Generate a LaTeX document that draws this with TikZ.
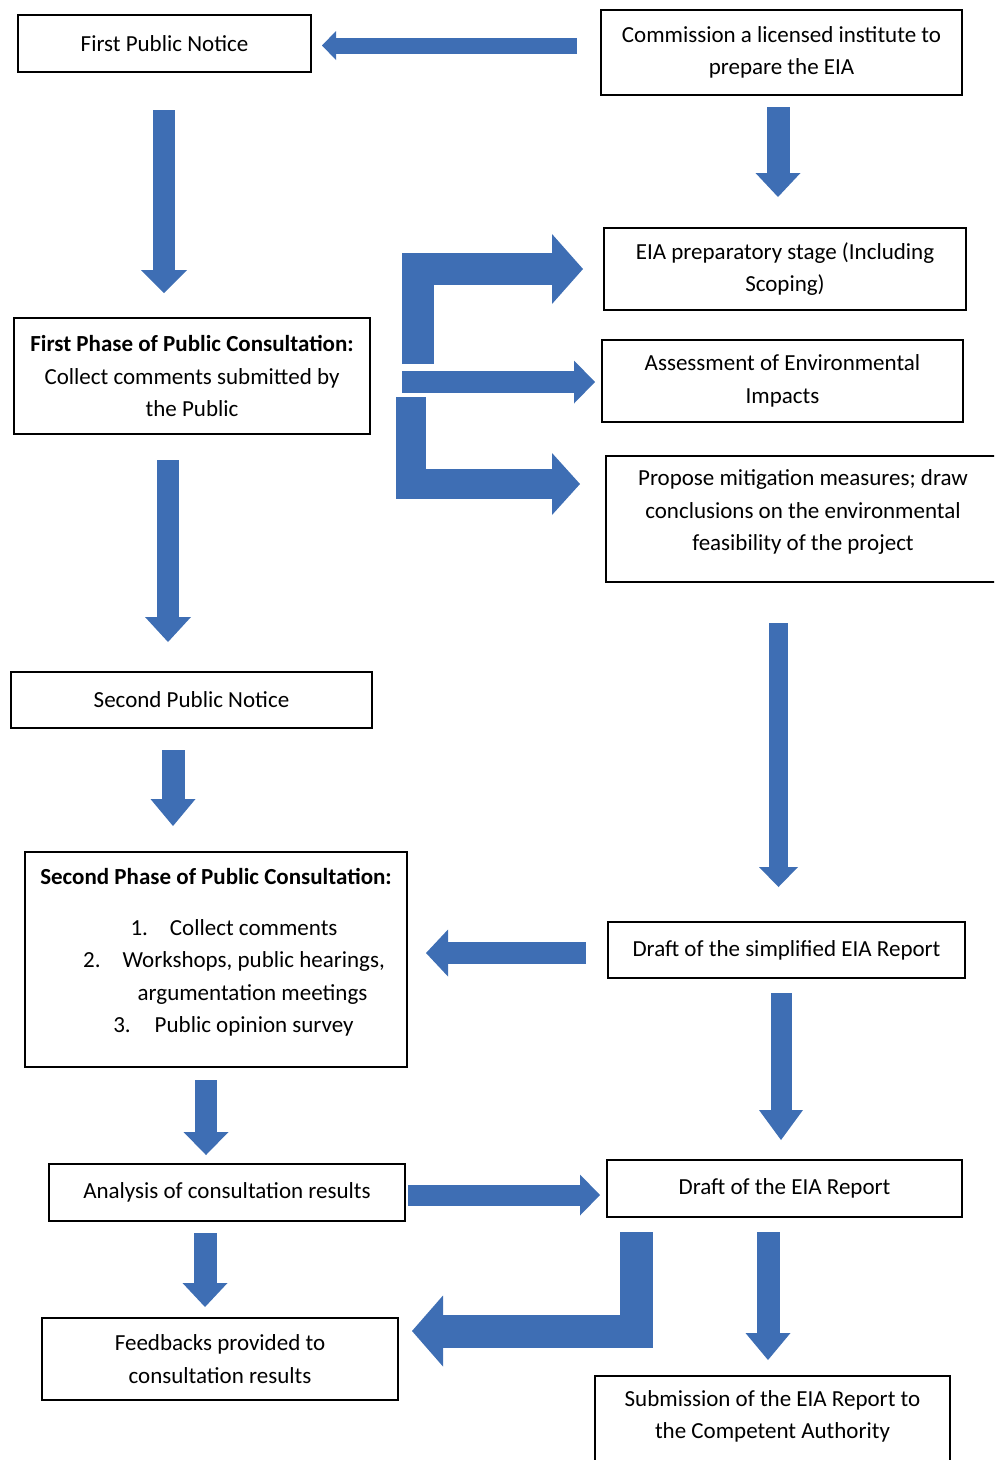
\documentclass[tikz,border=0pt]{standalone}
\usepackage{fontspec}
\setmainfont{Carlito}
\usetikzlibrary{arrows.meta,calc}
\definecolor{flowblue}{RGB}{62,110,180}

\begin{document}
\begin{tikzpicture}[x=1pt,y=-1pt,
	every node/.style={font=\fontsize{23}{32.5}\selectfont},
	box/.style 2 args={draw, line width=1.5pt, align=center, inner sep=0pt, outer sep=0pt,
		minimum width=#1pt, minimum height=#2pt},
	flow/.style n args={3}{draw=flowblue, line width=#1pt, line join=miter,
		-{Triangle[width=#2pt,length=#3pt,line width=0pt]}}]
	\clip (0,0) rectangle (994,1460);
	
	\node[box={293}{57}] (pn1) at (164.5,43.5) {First Public Notice};
	\node[box={361}{85}] (inst) at (781.5,52.5) {Commission a licensed institute to\\prepare the EIA};
	\node[box={362}{82}] (prep) at (785,269) {EIA preparatory stage (Including\\Scoping)};
	\node[box={356}{116}] (fp1) at (192,376) {\textbf{First Phase of Public Consultation:}\\Collect comments submitted by\\the Public};
	\node[box={361}{82}] (assess) at (782.5,381) {Assessment of Environmental\\Impacts};
	\node[box={394}{126}] (mitig) at (803,519) {Propose mitigation measures; draw\\conclusions on the environmental\\feasibility of the project\\[-15pt]\mbox{}};
	\node[box={361}{56}] (pn2) at (191.5,700) {Second Public Notice};
	\node[box={382}{215}] (sp2) at (216,959.5) {\textbf{Second Phase of Public Consultation:}\\[18.5pt]
		\hspace*{36pt}1.\hspace{22pt}Collect comments\\
		\hspace*{36pt}2.\hspace{22pt}Workshops, public hearings,\\
		\hspace*{73pt}argumentation meetings\\
		\hspace*{35pt}3.\hspace{24pt}Public opinion survey\\[-14pt]\mbox{}};
	\node[box={357}{56}] (simple) at (786.5,950) {Draft of the simplified EIA Report};
	\node[box={356}{57}] (results) at (227,1192.5) {Analysis of consultation results};
	\node[box={355}{57}] (report) at (784.5,1188.5) {Draft of the EIA Report};
	\node[box={356}{82}] (feedback) at (220,1359) {Feedbacks provided to\\consultation results};
	\node[box={355}{109}] (submit) at (772.5,1430.5) {Submission of the EIA Report to\\the Competent Authority\\ \mbox{}};
	
	\draw[flow={16}{29}{14}] ($(inst.west)+(-24,-7)$) -- ($(pn1.east)+(11,2)$);
	\draw[flow={22}{46}{23}] ($(pn1.south)+(-0.5,38)$) -- ($(fp1.north)+(-28,-25)$);
	\draw[flow={23}{45}{24}] ($(inst.south)+(-3.5,12)$) -- ($(prep.north)+(-7,-31)$);
	\draw[flow={22}{46}{25}] ($(fp1.south)+(-24,26)$) -- ($(pn2.north)+(-23.5,-30)$);
	
	\draw[flow={32}{70}{31}] ($(fp1.east)+(47.5,-12)$) |- ($(prep.west)+(-21,0)$);
	\draw[flow={22}{43}{21}] ($(fp1.east)+(32,6)$) -- ($(assess.west)+(-7,1)$);
	\draw[flow={30}{62}{28}] ($(fp1.east)+(41,21)$) |- ($(mitig.west)+(-26,-35)$);
	
	\draw[flow={19}{39}{20}] ($(mitig.south)+(-24.5,41)$) -- ($(simple.north)+(-8,-35)$);
	\draw[flow={23}{45}{27}] ($(pn2.south)+(-18.5,22)$) -- ($(sp2.north)+(-43,-26)$);
	\draw[flow={22}{47}{22}] ($(simple.west)+(-22,3)$) -- ($(sp2.east)+(19,-6.5)$);
	\draw[flow={21}{44}{30}] ($(simple.south)+(-5.5,15)$) -- ($(report.north)+(-3.5,-20)$);
	\draw[flow={22}{45}{23}] ($(sp2.south)+(-10,13)$) -- ($(results.north)+(-21,-9)$);
	\draw[flow={21}{41}{20}] ($(results.east)+(3,2.5)$) -- ($(report.west)+(-7,6.5)$);
	\draw[flow={23}{45}{24}] ($(results.south)+(-22,12)$) -- ($(feedback.north)+(-15,-11)$);
	\draw[flow={33}{71}{31}] ($(report.south)+(-148.5,15)$) |- ($(feedback.east)+(14,-28)$);
	\draw[flow={23}{45}{27}] ($(report.south)+(-16.5,15)$) -- ($(submit.north)+(-4.5,-16)$);
\end{tikzpicture}
\end{document}
